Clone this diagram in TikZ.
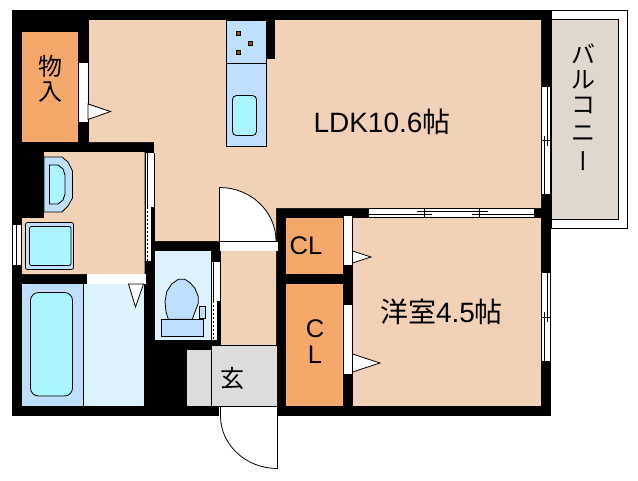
\documentclass[tikz,border=0pt]{standalone}
\usepackage{fontspec}
\setmainfont{Liberation Sans}
\newfontfamily\cjk{Noto Sans CJK JP}
\newfontfamily\cjkv[RawFeature=+vert]{Noto Sans CJK JP}
\usetikzlibrary{positioning}
\definecolor{roomc}{HTML}{F2D2B6}
\definecolor{closetc}{HTML}{F4A96B}
\definecolor{wetc}{HTML}{DEF1FF}
\definecolor{fixc}{HTML}{BFDFFF}
\definecolor{waterc}{HTML}{AAF5FF}
\definecolor{entryc}{HTML}{DCDCDC}
\definecolor{balcc}{HTML}{E0D8CF}
\definecolor{burnc}{HTML}{A04E00}
% window seen from above, upright
\newcommand{\sidewin}[3]{
	\fill[white] (#1,#2) rectangle (#1+9.5,#3);
	\draw[thinl] (#1+.5,#2) -- (#1+.5,#3);
	\draw[thinl] (#1+9.3,#2) -- (#1+9.3,#3);
	\draw[thinl] (#1+6.3,#2) -- (#1+6.3,{(#2+#3)/2+5});
	\draw[thinl] (#1+3.5,{(#2+#3)/2-5}) -- (#1+3.5,#3);
	\draw[thinl] (#1,{(#2+#3)/2}) -- (#1+9.5,{(#2+#3)/2});
}
% sliding door in a wall
\newcommand{\slidedoor}[4]{
	\fill[white] (#1,#2) rectangle (#1+9.5,#4);
	\draw[thick,black] (#1+.5,#2) -- (#1+.5,#4);
	\draw[thick,black] (#1+2.7,#2) -- (#1+2.7,#3);
	\draw[thick,black,dashed,dash pattern=on 2pt off 2pt] (#1+2.7,#3) -- (#1+2.7,#4);
	\draw[thinl] (#1+9,#2) -- (#1+9,#3);
	\fill[black] (#1+6,#3) rectangle (#1+9.5,#4);
}
\begin{document}
\begin{tikzpicture}[x=1pt,y=-1pt,
	thinl/.style={draw=black,line width=0.8pt},
	fixture/.style={fill=fixc,thinl},
	water/.style={fill=waterc,thinl},
	doortri/.style={fill=white,thinl},
	biglabel/.style={inner sep=0pt,text=black,font=\fontsize{28}{28}\selectfont},
	clabel/.style={inner sep=0pt,text=black,font=\fontsize{25.5}{26}\selectfont},
	jplabel/.style={inner sep=0pt,text=black,font=\fontsize{24}{24}\selectfont\cjk}
	]
	\useasboundingbox (0,0) rectangle (638,480);
	\fill[white] (0,0) rectangle (638,480);

	% balcony
	\draw[thinl,fill=white] (551,10.5) rectangle (627.5,228.5);
	\draw[thinl,fill=balcc] (551,19.5) rectangle (618.5,219);

	% walls
	\fill[black] (12,10) rectangle (551,416);

	% rooms
	\fill[roomc] (89,20) -- (541,20) -- (541,208) -- (276,208) -- (276,345) -- (221,345) -- (221,241) -- (154,241) -- (154,142) -- (89,142) -- cycle;
	\fill[black] (266,20) rectangle (275,59);
	\fill[roomc] (44,152) -- (144.5,152) -- (144.5,274) -- (22,274) -- (22,218) -- (44,218) -- cycle;
	\fill[roomc] (353,218) rectangle (541,406);
	\fill[closetc] (22,32) rectangle (78,142);
	\fill[closetc] (286,218) rectangle (343,274);
	\fill[closetc] (286,284) rectangle (343,406);
	\fill[fixc] (22,284) rectangle (83.5,406);
	\fill[wetc] (83.5,284) rectangle (144,406);
	\fill[wetc] (155,251) rectangle (211,340);
	\fill[entryc] (187,350) rectangle (212,406);
	\fill[entryc] (212,345.5) rectangle (276.5,406);
	\draw[thinl] (221,345.5) -- (276.5,345.5);
	\draw[thinl] (211.5,350) -- (211.5,406);
	\draw[thinl] (83.5,284) -- (83.5,406);

	% kitchen
	\draw[fixture] (226.8,20) rectangle (266.5,146.5);
	\draw[thinl] (226.8,63) -- (266.5,63);
	\draw[water,rounded corners=4pt] (232.5,95.5) rectangle (256.5,135.5);
	\foreach \bx/\by in {238.5/33,250.5/43,238.5/52}
		\draw[fill=burnc,line width=0.6pt] (\bx-2,\by-2) rectangle (\bx+2,\by+2);

	% wash basin and washer pan
	\draw[fixture] (44,157) -- (62,157) -- (68,162) -- (72.5,171) -- (72.5,198) -- (68,206) -- (62,212) -- (44,212) -- cycle;
	\draw[water] (49.5,165) -- (58,165) -- (63,169) -- (65,175) -- (65,194) -- (63,200) -- (58,204) -- (49.5,204) -- cycle;
	\draw[fixture,rounded corners=2pt] (25.5,222.5) rectangle (73.5,269.5);
	\draw[water,rounded corners=2pt] (29.5,226.5) rectangle (71,265.5);

	% bath tub
	\draw[water,rounded corners=8pt] (30.5,292.5) rectangle (72.5,396);

	% toilet
	\draw[fixture] (178.3,279.3) -- (185,279.3) -- (190,282.7) -- (195,288.3) -- (198.3,296.7) -- (198.3,303.3) -- (195,311.7) -- (192.3,319.3) -- (168.3,319.3) -- (166,311.7) -- (165,301.7) -- (166.7,291.7) -- (171.7,284) -- cycle;
	\draw[fixture] (161.3,319.3) rectangle (203.7,336.7);
	\draw[fixture] (199.3,306.7) rectangle (205.3,318.7);

	% swing doors
	\fill[white] (78.5,62) rectangle (88,122);
	\draw[thinl] (78.5,62) rectangle (88,122);
	\draw[doortri] (88,104) -- (110.5,111.5) -- (88,119.5) -- cycle;
	\fill[white] (87,274) rectangle (146,284);
	\draw[doortri] (128.5,284) -- (143.5,284) -- (135.5,307) -- cycle;
	\fill[white] (343.7,216) rectangle (352.3,264.5);
	\draw[doortri] (352.5,251) -- (371,257) -- (352.5,263) -- cycle;
	\fill[white] (343.7,305) rectangle (352.3,373.5);
	\draw[doortri] (352.5,354) -- (380,363) -- (352.5,372) -- cycle;

	% door to the hall
	\fill[white] (219.5,241.5) rectangle (278,250.5);
	\fill[white] (219.5,241) -- (219.5,187.5) arc[start angle=-90,end angle=0,x radius=56.5,y radius=53.5] -- cycle;
	\draw[thinl] (219.5,250.5) -- (219.5,187.5) arc[start angle=-90,end angle=0,x radius=56.5,y radius=53.5];
	\draw[thinl] (219.5,241.5) -- (278,241.5);

	% front door
	\fill[white] (219,407) rectangle (278,415.5);
	\draw[thinl] (277.5,407) -- (277.5,468.5) arc[start angle=90,end angle=180,x radius=57,y radius=52.5] -- (220.5,407);

	% windows
	\sidewin{541}{87}{194}
	\sidewin{541}{272.7}{361.3}
	\fill[white] (12.3,225) rectangle (21.5,265);
	\foreach \wx in {12.5,16.7,21}
		\draw[thinl] (\wx,225) -- (\wx,265);
	\fill[white] (369,208) rectangle (535,217.5);
	\draw[thinl] (369,208.5) -- (535,208.5);
	\draw[thinl] (369,217) -- (535,217);
	\draw[thinl] (369,214.7) -- (431.7,214.7);
	\draw[thinl] (471.7,214.7) -- (535,214.7);
	\draw[thinl] (416.7,211.3) -- (488.3,211.3);
	\draw[thinl] (424.5,208) -- (424.5,217.5);
	\draw[thinl] (479.5,208) -- (479.5,217.5);
	\draw[thinl] (534.5,208) -- (534.5,217.5);

	% sliding doors
	\slidedoor{145}{153}{207}{261}
	\slidedoor{211}{262}{301}{340}

	% labels
	\node[jplabel] (mono) at (50,66) {物};
	\node[jplabel] (iri) at (50,92) {入};
	\node[biglabel] (ldk) at (382,122) {LDK10.6{\cjk 帖}};
	\node[biglabel] (yoshitsu) at (441.5,312) {{\cjk 洋室}4.5{\cjk 帖}};
	\node[clabel] (cla) at (306,246) {CL};
	\node[clabel] (clc) at (315,329) {C};
	\node[clabel] (cll) at (315,355) {L};
	\node[jplabel] (genkan) at (232,378) {玄};
	\node[jplabel] (ba) at (583,54) {バ};
	\node[jplabel] (ru) at (583,80) {ル};
	\node[jplabel] (ko) at (583,105) {コ};
	\node[jplabel] (ni) at (583,134) {ニ};
	\node[jplabel,font=\fontsize{24}{24}\selectfont\cjkv] (bar) at (583,161) {ー};
\end{tikzpicture}
\end{document}
